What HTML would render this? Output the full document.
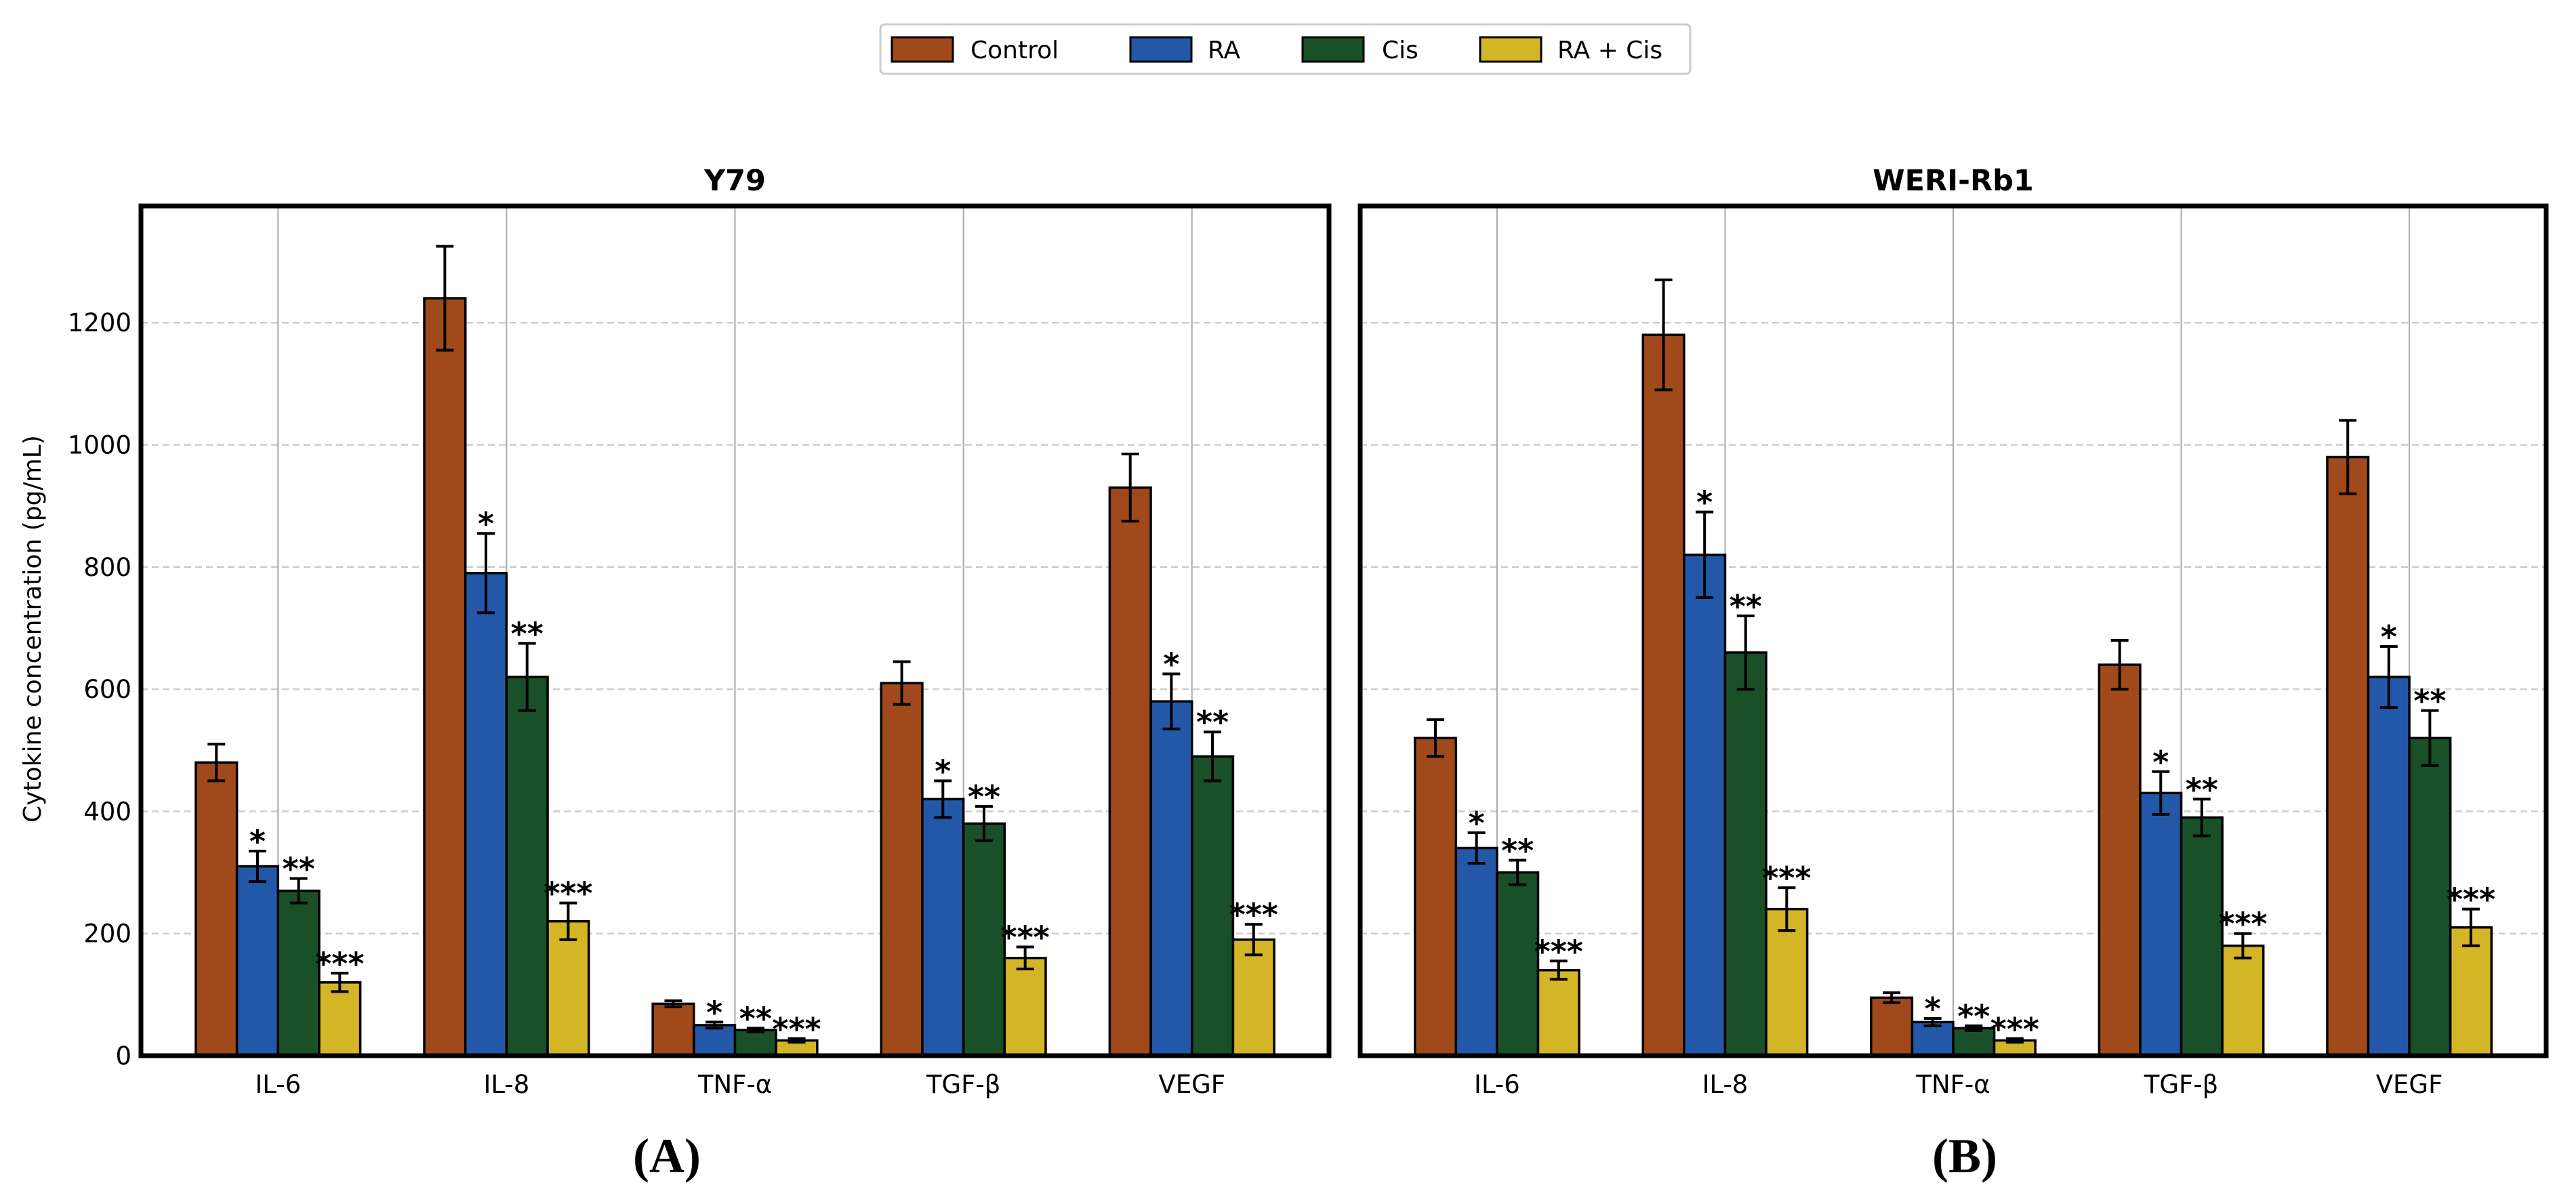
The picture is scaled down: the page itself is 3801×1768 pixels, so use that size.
<!DOCTYPE html>
<html><head><meta charset="utf-8"><style>
html,body{margin:0;padding:0;background:#fff;}
svg{display:block;font-family:"DejaVu Sans","Liberation Sans",sans-serif;}
</style></head><body>
<svg id="chart" width="3801" height="1768" viewBox="0 0 3801 1768" xmlns="http://www.w3.org/2000/svg">
<g>
<rect x="1299" y="36" width="1195" height="73" rx="6" fill="#fff" stroke="#ccc" stroke-width="3"/>
<rect x="1316" y="55" width="90" height="36" fill="#a0491a" stroke="#000" stroke-width="3"/>
<text x="1432" y="86" font-size="36">Control</text>
<rect x="1668" y="55" width="90" height="36" fill="#2358a8" stroke="#000" stroke-width="3"/>
<text x="1782" y="86" font-size="36">RA</text>
<rect x="1922" y="55" width="90" height="36" fill="#1a5028" stroke="#000" stroke-width="3"/>
<text x="2039" y="86" font-size="36">Cis</text>
<rect x="2184" y="55" width="90" height="36" fill="#d4b526" stroke="#000" stroke-width="3"/>
<text x="2298" y="86" font-size="36">RA + Cis</text>
</g>
<text transform="translate(60,928) rotate(-90)" text-anchor="middle" font-size="36">Cytokine concentration (pg/mL)</text>
<text x="984" y="1730" text-anchor="middle" font-size="72" font-weight="bold" font-family="Liberation Serif,serif">(A)</text>
<text x="2899" y="1730" text-anchor="middle" font-size="72" font-weight="bold" font-family="Liberation Serif,serif">(B)</text>
</svg>
<script>
const categories = ["IL-6","IL-8","TNF-α","TGF-β","VEGF"];
const seriesNames = ["Control","RA","Cis","RA + Cis"];
const y79Control = [480,1240,85,610,930];
const y79ControlErr = [30,85,5,35,55];
const y79RA = [310,790,50,420,580];
const y79RAErr = [25,65,5,30,45];
const y79Cis = [270,620,42,380,490];
const y79CisErr = [20,55,3,28,40];
const y79RACis = [120,220,25,160,190];
const y79RACisErr = [15,30,3,18,25];
const weriControl = [520,1180,95,640,980];
const weriControlErr = [30,90,8,40,60];
const weriRA = [340,820,55,430,620];
const weriRAErr = [25,70,6,35,50];
const weriCis = [300,660,45,390,520];
const weriCisErr = [20,60,4,30,45];
const weriRACis = [140,240,25,180,210];
const weriRACisErr = [15,35,3,20,30];
const yTicks = [0,200,400,600,800,1000,1200];
const stars = ["","*","**","***"];

const colors = ["#a0491a","#2358a8","#1a5028","#d4b526"];
const NS="http://www.w3.org/2000/svg";
const svg=document.getElementById('chart');
const Y0=1558, YT=304, YMAX=1391;
function yS(v){return Y0-(v/YMAX)*(Y0-YT);}
function mk(tag,attrs,parent){const e=document.createElementNS(NS,tag);for(const k in attrs)e.setAttribute(k,attrs[k]);(parent||svg).appendChild(e);return e;}

function panel(name,title,x0,x1,vals,errs,showY){
  const g=mk('g',{});
  
  
  const unit=(x1-x0)/5.2;
  const xS=i=>x0+(i+0.6)*unit;
  yTicks.forEach(t=>{
    if(t>0){const l=mk('line',{x1:x0,x2:x1,y1:yS(t),y2:yS(t),stroke:'#ccc','stroke-width':2.5,'stroke-dasharray':'10,6'},g);
    
    }
    if(showY){const tx=mk('text',{x:x0-14,y:yS(t)+13,'text-anchor':'end','font-size':37},g);tx.textContent=t;
    
    }
  });
  categories.forEach((c,i)=>{
    const l=mk('line',{x1:xS(i),x2:xS(i),y1:YT,y2:Y0,stroke:'#aaa','stroke-width':2},g);
    
    
    const tx=mk('text',{x:xS(i),y:Y0+55,'text-anchor':'middle','font-size':37},g);tx.textContent=c;
    
    
  });
  const bw=0.18*unit;
  vals.forEach((arr,s)=>{
    arr.forEach((v,i)=>{
      const cx=xS(i)+(s-1.5)*bw;
      const r=mk('rect',{x:cx-bw/2,y:yS(v),width:bw,height:Y0-yS(v),fill:colors[s],stroke:'#000','stroke-width':3.5},g);
      
      
      const e=errs[s][i], top=yS(v+e), bot=yS(v-e);
      const eb=mk('path',{d:`M${cx},${top}V${bot}M${cx-13},${top}H${cx+13}M${cx-13},${bot}H${cx+13}`,stroke:'#000','stroke-width':4,fill:'none'},g);
      
      
      if(stars[s]){const st=mk('text',{x:cx,y:top+2,'text-anchor':'middle','font-size':46,'font-weight':'bold'},g);st.textContent=stars[s];
      
      }
    });
  });
  const f=mk('rect',{x:x0,y:YT,width:x1-x0,height:Y0-YT,fill:'none',stroke:'#000','stroke-width':7},g);
  
  
  const t=mk('text',{x:(x0+x1)/2,y:281,'text-anchor':'middle','font-size':43,'font-weight':'bold'},g);t.textContent=title;
  
  
}
panel('panel-y79','Y79',208,1961,[y79Control,y79RA,y79Cis,y79RACis],[y79ControlErr,y79RAErr,y79CisErr,y79RACisErr],true);
panel('panel-weri-rb1','WERI-Rb1',2007,3757,[weriControl,weriRA,weriCis,weriRACis],[weriControlErr,weriRAErr,weriCisErr,weriRACisErr],false);
</script>
</body></html>
